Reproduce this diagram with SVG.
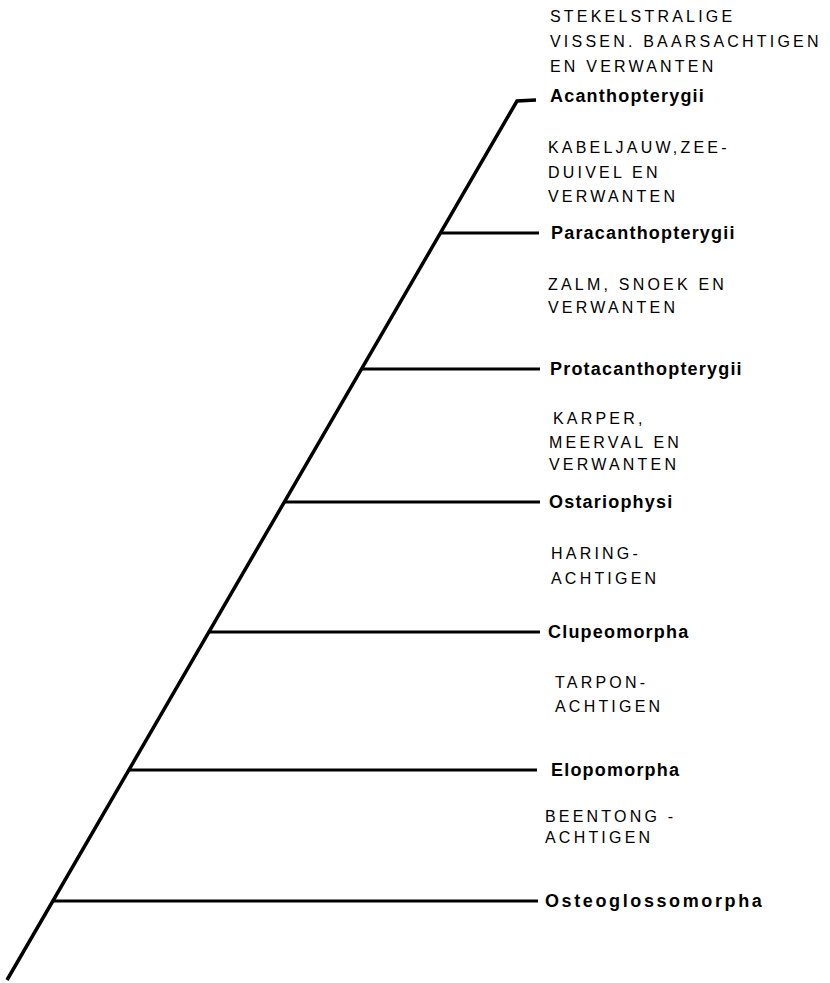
<svg xmlns="http://www.w3.org/2000/svg" width="830" height="983" viewBox="0 0 830 983">
<style>
.ln{stroke:#000;stroke-width:3;fill:none;stroke-linecap:butt}
.main{stroke:#000;stroke-width:3.5;fill:none}
.lab{font-family:"Liberation Sans",Arial,sans-serif;font-weight:bold;font-size:18px;letter-spacing:1.2px;fill:#000}
.cap{font-family:"Liberation Sans",Arial,sans-serif;font-size:16px;letter-spacing:3.2px;fill:#000}
</style>
<rect width="830" height="983" fill="#fff"/>
<g id="connectors">
<polyline class="main" points="7,980 517,101 536,100"/>
<line class="ln" x1="440" y1="233" x2="539" y2="233"/>
<line class="ln" x1="361" y1="369" x2="540" y2="369"/>
<line class="ln" x1="284" y1="502" x2="540" y2="502"/>
<line class="ln" x1="209" y1="632" x2="540" y2="632"/>
<line class="ln" x1="129" y1="770" x2="537" y2="770"/>
<line class="ln" x1="53" y1="901" x2="538" y2="901"/>
</g>
<g id="acanthopterygii">
<text class="cap" x="550" y="22">STEKELSTRALIGE</text>
<text class="cap" x="550" y="47">VISSEN. BAARSACHTIGEN</text>
<text class="cap" x="550" y="72">EN VERWANTEN</text>
<text class="lab" x="550" y="102">Acanthopterygii</text>
</g>
<g id="paracanthopterygii">
<text class="cap" x="548" y="153">KABELJAUW,ZEE-</text>
<text class="cap" x="548" y="178">DUIVEL EN</text>
<text class="cap" x="548" y="202">VERWANTEN</text>
<text class="lab" x="551" y="239">Paracanthopterygii</text>
</g>
<g id="protacanthopterygii">
<text class="cap" x="548" y="290">ZALM, SNOEK EN</text>
<text class="cap" x="548" y="313">VERWANTEN</text>
<text class="lab" x="550" y="375">Protacanthopterygii</text>
</g>
<g id="ostariophysi">
<text class="cap" x="553" y="424">KARPER,</text>
<text class="cap" x="549" y="448">MEERVAL EN</text>
<text class="cap" x="549" y="470">VERWANTEN</text>
<text class="lab" x="549" y="508">Ostariophysi</text>
</g>
<g id="clupeomorpha">
<text class="cap" x="551" y="559">HARING-</text>
<text class="cap" x="551" y="584">ACHTIGEN</text>
<text class="lab" x="548" y="638">Clupeomorpha</text>
</g>
<g id="elopomorpha">
<text class="cap" x="555" y="688">TARPON-</text>
<text class="cap" x="555" y="712">ACHTIGEN</text>
<text class="lab" x="551" y="776">Elopomorpha</text>
</g>
<g id="osteoglossomorpha">
<text class="cap" x="545" y="822">BEENTONG -</text>
<text class="cap" x="545" y="843">ACHTIGEN</text>
<text class="lab" x="545" y="907" textLength="218" lengthAdjust="spacing">Osteoglossomorpha</text>
</g>
</svg>
